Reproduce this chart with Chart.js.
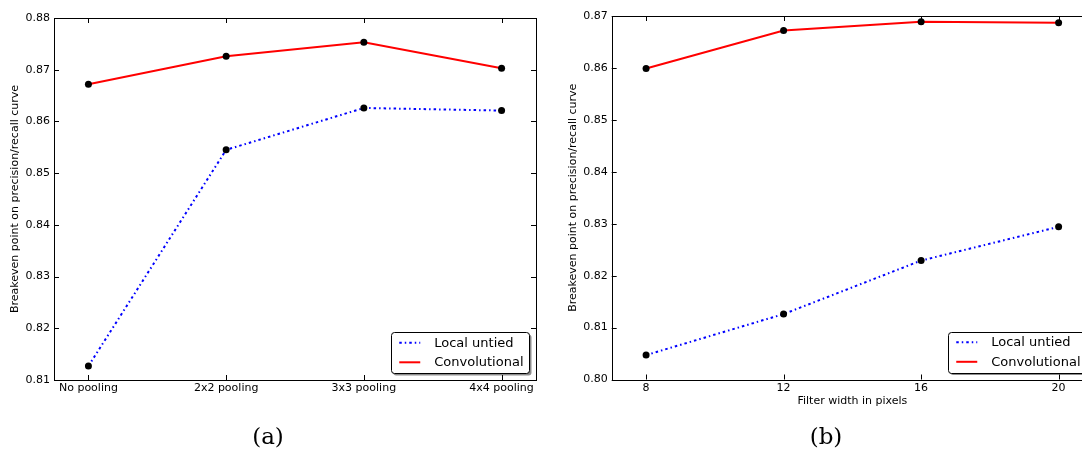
<!DOCTYPE html>
<html>
<head>
<meta charset="utf-8">
<script src="https://cdn.jsdelivr.net/npm/chart.js@4.4.1/dist/chart.umd.min.js"></script>
<style>
    html, body { margin: 0; padding: 0; background: #fff; overflow: hidden; }
    body { width: 1082px; height: 453px; position: relative; }
    canvas { position: absolute; top: 0; }
    #chart-pooling { left: 0; }
    #chart-width { left: 560px; }
    .caption {
        position: absolute;
        top: 423px;
        font-family: "DejaVu Serif", serif;
        font-size: 23px;
        color: #000;
        transform: translateX(-50%);
    }
</style>
</head>
<body>
<canvas id="chart-pooling" width="545" height="453"></canvas>
<canvas id="chart-width" width="545" height="453"></canvas>
<div class="caption" style="left: 268px;">(a)</div>
<div class="caption" style="left: 826px;">(b)</div>
<script>
// Pooling comparison (left panel)
const poolingLabels = ["No pooling", "2x2 pooling", "3x3 pooling", "4x4 pooling"];
const poolingLocal = [0.8127, 0.8545, 0.8626, 0.8621];
const poolingConv = [0.8672, 0.8726, 0.8753, 0.8703];
const poolingYTicks = [0.81, 0.82, 0.83, 0.84, 0.85, 0.86, 0.87, 0.88];

// Filter width comparison (right panel)
const filterWidths = [8, 12, 16, 20];
const widthLocal = [0.8047, 0.8126, 0.8229, 0.8294];
const widthConv = [0.8599, 0.8672, 0.8689, 0.8687];
const widthYTicks = [0.80, 0.81, 0.82, 0.83, 0.84, 0.85, 0.86, 0.87];

const FONT = "DejaVu Sans";
Chart.defaults.font.family = FONT;
Chart.defaults.color = "#000";

// matplotlib-style frame with inward ticks on all four sides
const frameTicks = {
    id: "frameTicks",
    afterDatasetsDraw(chart) {
        const { ctx, chartArea: a, scales } = chart;
        const len = 5;
        ctx.save();
        ctx.strokeStyle = "#000";
        ctx.lineWidth = 1;
        ctx.beginPath();
        scales.x.ticks.forEach((t) => {
            const px = Math.round(scales.x.getPixelForValue(t.value)) + 0.5;
            ctx.moveTo(px, a.bottom);
            ctx.lineTo(px, a.bottom - len);
            ctx.moveTo(px, a.top);
            ctx.lineTo(px, a.top + len);
        });
        scales.y.ticks.forEach((t) => {
            const py = Math.round(scales.y.getPixelForValue(t.value)) + 0.5;
            ctx.moveTo(a.left, py);
            ctx.lineTo(a.left + len, py);
            ctx.moveTo(a.right, py);
            ctx.lineTo(a.right - len, py);
        });
        ctx.stroke();
        ctx.strokeRect(
            Math.round(a.left) + 0.5,
            Math.round(a.top) + 0.5,
            Math.round(a.right - a.left),
            Math.round(a.bottom - a.top)
        );
        ctx.restore();
    },
};

// Legend box in the lower right corner of the plot area
const boxLegend = {
    id: "boxLegend",
    afterDraw(chart) {
        const { ctx, chartArea: a } = chart;
        const sets = chart.data.datasets;
        ctx.save();
        ctx.font = "13px " + FONT;
        const textW = Math.max(...sets.map((d) => ctx.measureText(d.label).width));
        const w = 8.5 + 21 + 15 + textW + 4.5;
        const h = 41;
        const x = a.right - 7 - w;
        const y = a.bottom - 7 - h;
        const r = 3;
        // shadow
        ctx.fillStyle = "rgba(0,0,0,0.45)";
        ctx.beginPath();
        ctx.roundRect(x + 2.5, y + 2.5, w, h, r);
        ctx.fill();
        ctx.fillStyle = "#fff";
        ctx.strokeStyle = "#000";
        ctx.lineWidth = 1;
        ctx.beginPath();
        ctx.roundRect(Math.round(x) + 0.5, Math.round(y) + 0.5, Math.round(w), h, r);
        ctx.fill();
        ctx.stroke();
        sets.forEach((d, i) => {
            const cy = y + 10.7 + i * 19.6;
            ctx.strokeStyle = d.borderColor;
            ctx.lineWidth = d.borderWidth;
            ctx.setLineDash(d.borderDash || []);
            ctx.beginPath();
            ctx.moveTo(x + 8.5, cy);
            ctx.lineTo(x + 29.5, cy);
            ctx.stroke();
            ctx.setLineDash([]);
            ctx.fillStyle = "#000";
            ctx.textBaseline = "middle";
            ctx.fillText(d.label, x + 43.5, cy + 0.5);
        });
        ctx.restore();
    },
};

function series(xs, ys) {
    return ys.map((v, i) => ({ x: xs[i], y: v }));
}

function lineSets(xs, local, conv) {
    const point = {
        pointRadius: 3.5,
        pointBackgroundColor: "#000",
        pointBorderColor: "#000",
        pointBorderWidth: 0,
        pointHoverRadius: 3.5,
        tension: 0,
        fill: false,
    };
    return [
        {
            label: "Local untied",
            data: series(xs, local),
            borderColor: "#0000ff",
            borderWidth: 2,
            borderDash: [2.5, 3, 1.5, 3],
            ...point,
        },
        {
            label: "Convolutional",
            data: series(xs, conv),
            borderColor: "#ff0000",
            borderWidth: 2,
            ...point,
        },
    ];
}

function makeChart(id, cfg) {
    return new Chart(document.getElementById(id), {
        type: "line",
        data: { datasets: lineSets(cfg.xs, cfg.local, cfg.conv) },
        options: {
            responsive: false,
            animation: false,
            devicePixelRatio: 1,
            layout: { padding: cfg.padding },
            plugins: { legend: { display: false }, tooltip: { enabled: false } },
            scales: {
                x: {
                    type: "linear",
                    min: cfg.xMin,
                    max: cfg.xMax,
                    grid: { display: false, drawTicks: false },
                    border: { display: false },
                    ticks: {
                        padding: 2,
                        font: { size: 11 },
                        callback: cfg.xLabel,
                    },
                    afterBuildTicks: (s) => {
                        s.ticks = cfg.xTicks.map((v) => ({ value: v }));
                    },
                    afterFit: (s) => {
                        s.height = cfg.xHeight;
                    },
                    title: cfg.xTitle
                        ? { display: true, text: cfg.xTitle, font: { size: 11 }, padding: { top: 4, bottom: 4 } }
                        : { display: false },
                },
                y: {
                    min: cfg.yTicks[0],
                    max: cfg.yTicks[cfg.yTicks.length - 1],
                    grid: { display: false, drawTicks: false },
                    border: { display: false },
                    ticks: {
                        padding: 4,
                        font: { size: 11 },
                        callback: (v) => v.toFixed(2),
                    },
                    afterBuildTicks: (s) => {
                        s.ticks = cfg.yTicks.map((v) => ({ value: v }));
                    },
                    afterFit: (s) => {
                        s.width = cfg.yWidth;
                    },
                    title: {
                        display: true,
                        text: "Breakeven point on precision/recall curve",
                        font: { size: 11 },
                        padding: { top: 4, bottom: 4 },
                    },
                },
            },
        },
        plugins: [frameTicks, boxLegend],
    });
}

makeChart("chart-pooling", {
    xs: [0, 1, 2, 3],
    local: poolingLocal,
    conv: poolingConv,
    xMin: -0.25,
    xMax: 3.25,
    xTicks: [0, 1, 2, 3],
    xLabel: (v) => poolingLabels[v],
    yTicks: poolingYTicks,
    padding: { left: 5, top: 18, right: 9, bottom: 43 },
    yWidth: 49,
    xHeight: 30,
});

makeChart("chart-width", {
    xs: filterWidths,
    local: widthLocal,
    conv: widthConv,
    xMin: 7,
    xMax: 21,
    xTicks: filterWidths,
    xLabel: (v) => String(v),
    xTitle: "Filter width in pixels",
    yTicks: widthYTicks,
    padding: { left: 2.5, top: 16, right: 12, bottom: 41.5 },
    yWidth: 49.2,
    xHeight: 32,
});
</script>
</body>
</html>
